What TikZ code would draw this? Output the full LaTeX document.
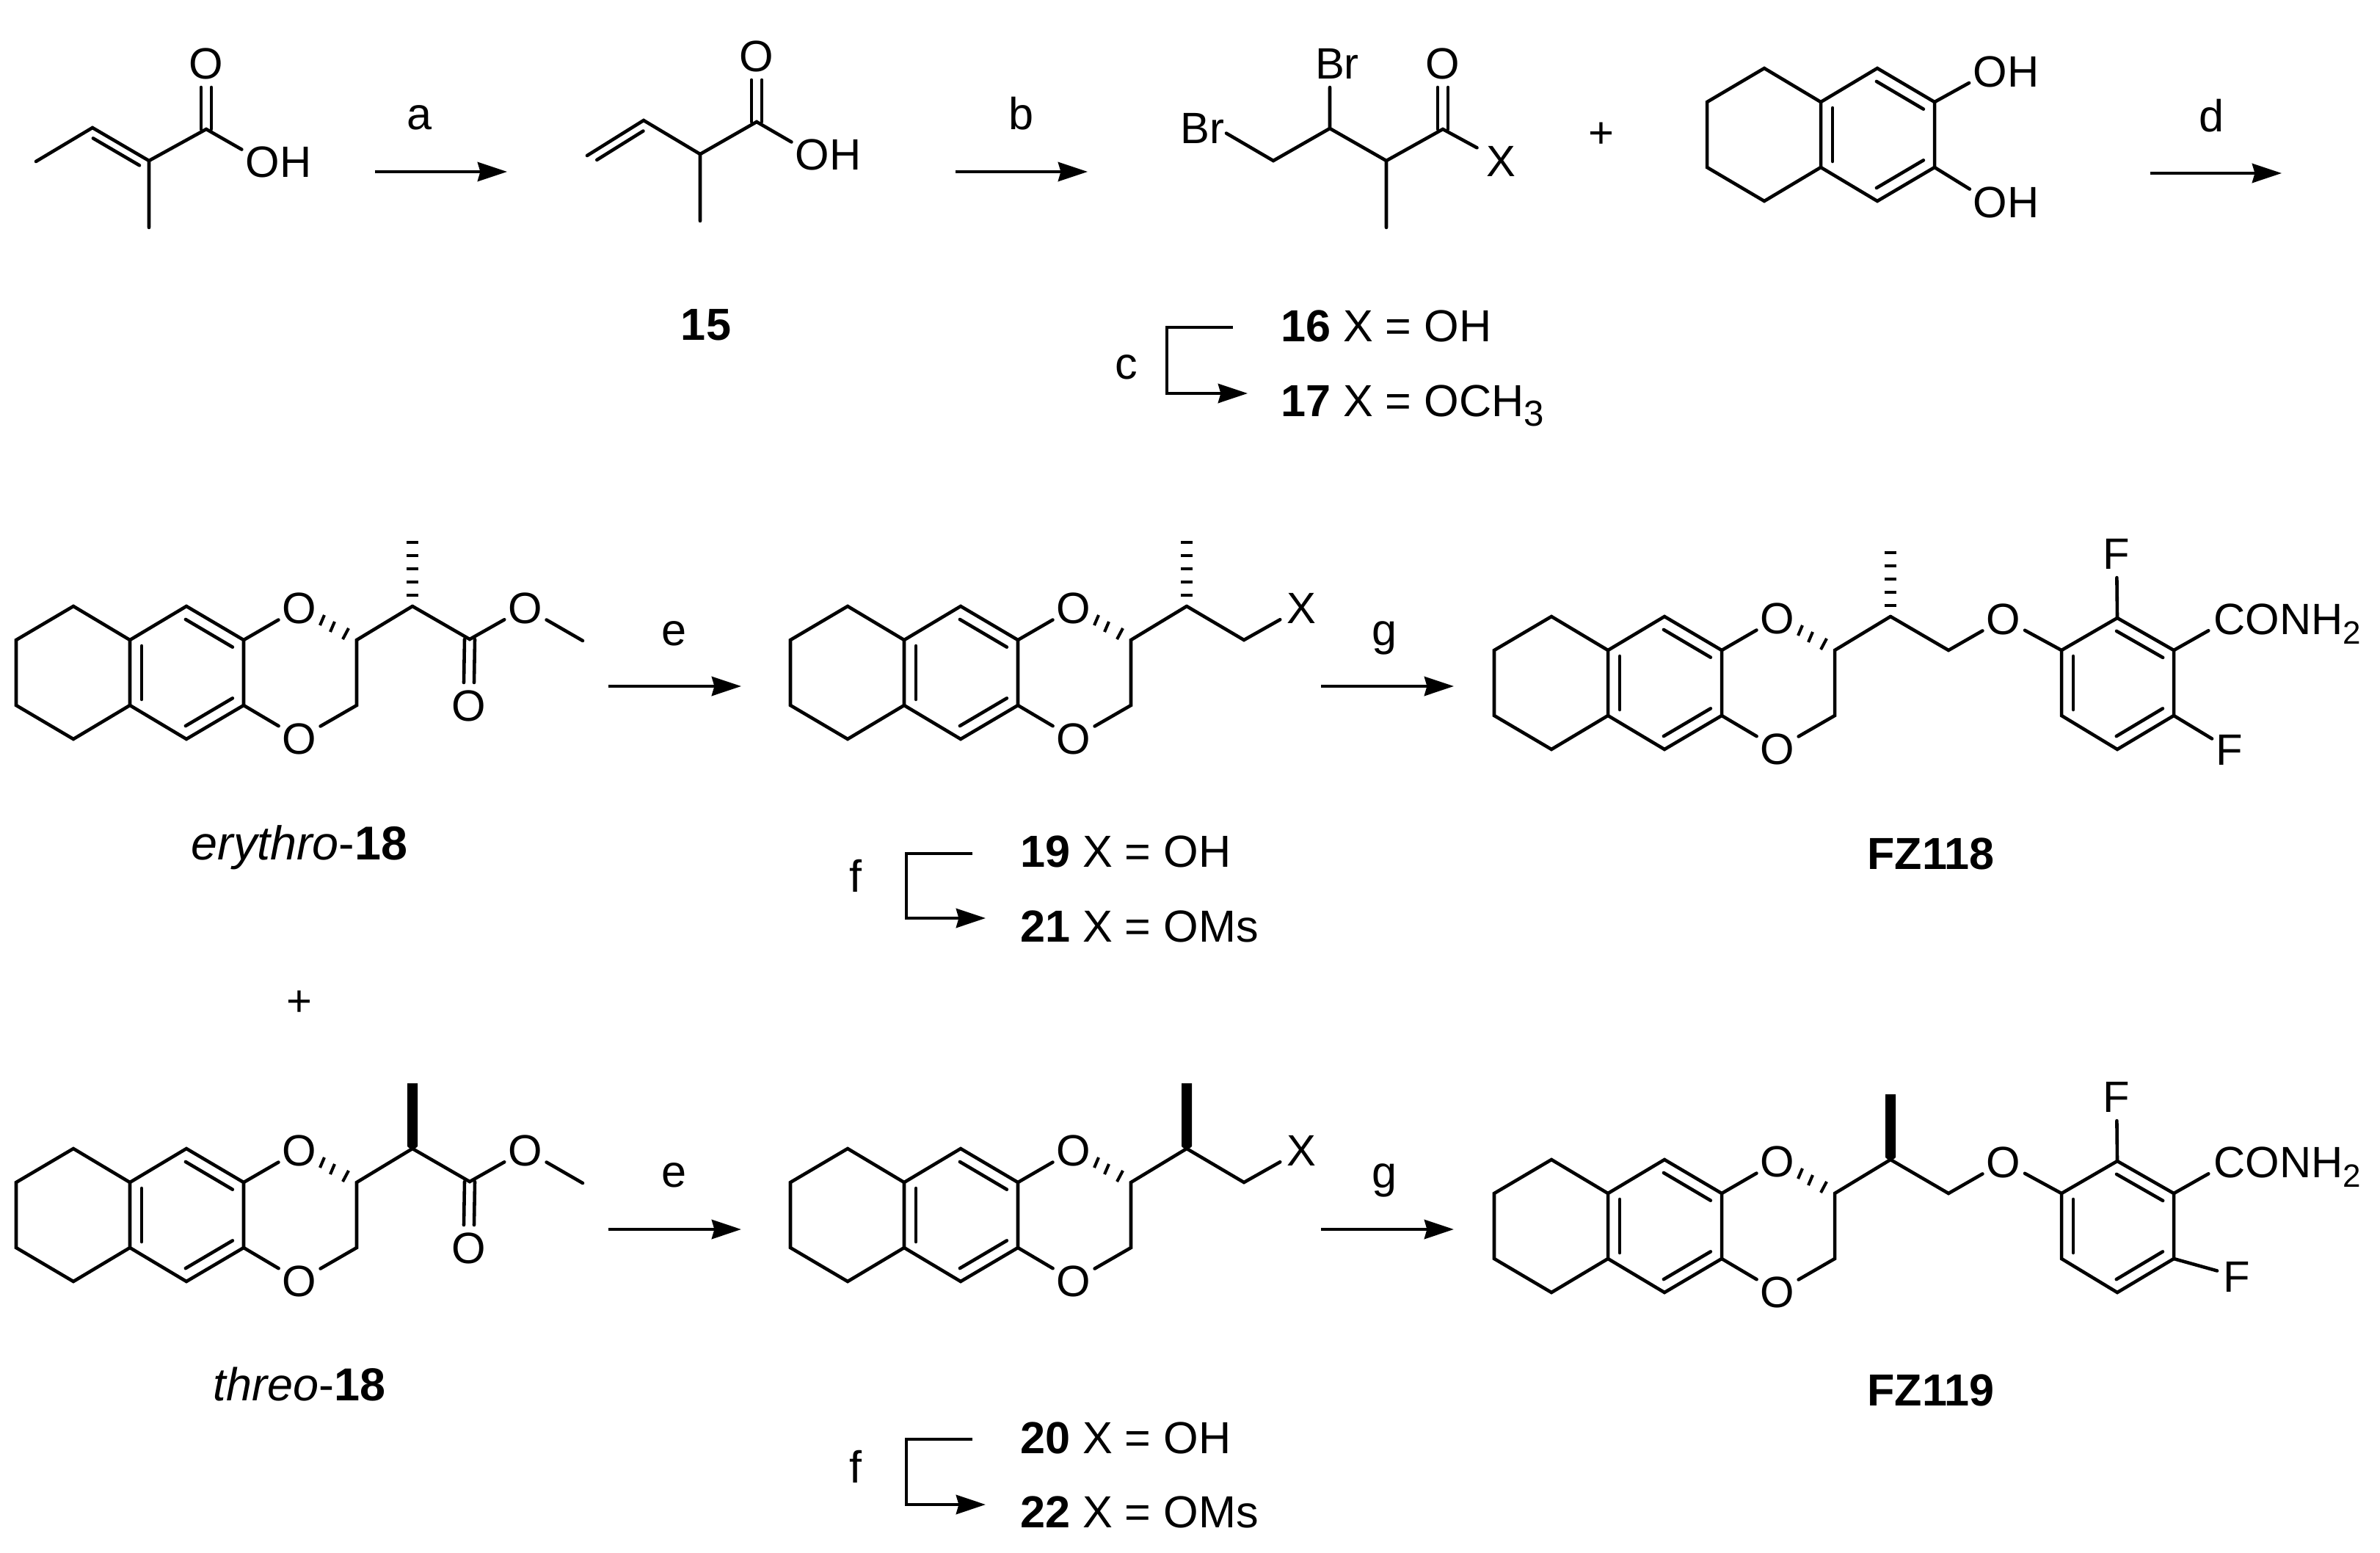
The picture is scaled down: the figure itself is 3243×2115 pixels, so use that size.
\documentclass[tikz,border=0pt]{standalone}
\usepackage{fontspec}
\setmainfont{Liberation Sans}
\usetikzlibrary{calc,arrows.meta}
\newcommand\atxt[3]{\smash{\raisebox{-.358em}{\makebox[0pt][c]{\llap{#1}#2\rlap{#3}}}}}
\newcommand\dbond[3]{\draw[bond] ($(#1)!.09!(#2)!#3!90:(#2)$) -- ($(#2)!.09!(#1)!#3!-90:(#1)$);}
\newcommand\vdbl[3]{\draw[bond] ($(#1)+(-7,0)$) -- ($(#2)+(-7,#3)$) ($(#1)+(7,0)$) -- ($(#2)+(7,#3)$);}
\newcommand\subtxt[2]{\raisebox{-.22em}{\fontsize{#1}{#1}\selectfont #2}}
\newcommand\tetralin{%
  \coordinate (a1) at (22,872); \coordinate (a2) at (100,826); \coordinate (a3) at (177,872);
  \coordinate (a4) at (254,826); \coordinate (a5) at (332,872); \coordinate (a6) at (332,961);
  \coordinate (a7) at (254,1007); \coordinate (a8) at (177,961); \coordinate (a9) at (100,1007);
  \coordinate (a10) at (22,961);
  \draw[bond] (a1)--(a2)--(a3)--(a4)--(a5)--(a6)--(a7)--(a8)--(a9)--(a10)--cycle (a3)--(a8);
  \dbond{a3}{a8}{.16cm}\dbond{a5}{a4}{.16cm}\dbond{a7}{a6}{.16cm}%
}
\newcommand\core{%
  \tetralin
  \node[atom] (O1) at (408,828) {\atxt{}{O}{}};
  \node[atom] (O2) at (408,1006) {\atxt{}{O}{}};
  \coordinate (c1) at (486,872); \coordinate (c2) at (486,961); \coordinate (c3) at (562,826);
  \draw[bond] (a5)--(O1) (a6)--(O2) (O2)--(c2)--(c1)--(c3);
  \draw[tick] ($(c1)+(-11,-16)$)--($(c1)+(-19,-1)$);
  \draw[tick] ($(c1)+(-30,-25)$)--($(c1)+(-36,-11)$);
  \draw[tick] ($(c1)+(-44,-34)$)--($(c1)+(-50,-20)$);
}
\newcommand\hashm{\foreach \d in {15,33,51,69,87}{\draw[tick,line width=1.35pt,line cap=butt] ($(c3)+(-8,-\d)$)--($(c3)+(8,-\d)$);}}
\newcommand\wedgem{\fill ($(c3)+(-7,-89)$)--($(c3)+(7,-89)$)--($(c3)+(7,-3)$)--($(c3)+(0,3)$)--($(c3)+(-7,-3)$)--cycle;}
\newcommand\ester{%
  \coordinate (e1) at (640,871);
  \node[atom] (O3) at (639,961) {\atxt{}{O}{}};
  \node[atom] (O4) at (716,828) {\atxt{}{O}{}};
  \coordinate (e2) at (794,873);
  \draw[bond] (c3)--(e1)--(O4)--(e2);
  \vdbl{e1}{O3}{-31}%
}
\newcommand\xchain{%
  \coordinate (e1) at (640,872);
  \node[atom] (X1) at (718,828) {\atxt{}{X}{}};
  \draw[bond] (c3)--(e1)--(X1);
}
% #1 = y position of the lower F; #2 x of lower F
\newcommand\aryl[2]{%
  \coordinate (e1) at (641,872);
  \node[atom] (O3) at (716,829) {\atxt{}{O}{}};
  \coordinate (b1) at (795,872); \coordinate (b2) at (871,828); \coordinate (b3) at (948,872);
  \coordinate (b4) at (948,961); \coordinate (b5) at (871,1007); \coordinate (b6) at (795,961);
  \node[atom] (F1) at (870,740) {\atxt{}{F}{}};
  \node[atom,minimum size=.56cm] (F2) at (#2,#1) {\atxt{}{F}{}};
  \node[atom] (C1) at (1024,829) {\atxt{}{C}{ONH\subtxt{12.5pt}{2}}};
  \draw[bond] (c3)--(e1)--(O3)--(b1);
  \draw[bond] (b1)--(b2)--(b3)--(b4)--(b5)--(b6)--cycle;
  \draw[bond] (b2)--(F1) (b3)--(C1) (b4)--(F2);
  \dbond{b1}{b6}{.16cm}\dbond{b5}{b4}{.16cm}\dbond{b3}{b2}{.16cm}%
}
% #1 name, #2 xstart, #3 ytop, #4 xcorner, #5 ybottom, #6 xtip
\newcommand\elbow[6]{%
  \coordinate (#1s) at (#2,#3); \coordinate (#1m) at (#4,#3); \coordinate (#1n) at (#4,#5); \coordinate (#1e) at (#6,#5);
  \draw[arr] (#1s)--(#1m)--(#1n)--(#1e);
}
\newcommand\rarrow[4]{%
  \coordinate (#1s) at (#2,#4); \coordinate (#1e) at (#3,#4);
  \draw[arr] (#1s)--(#1e);
}
\tikzset{
  bond/.style={line width=1.3pt,line cap=round,line join=miter},
  tick/.style={line width=1.15pt,line cap=butt},
  arr/.style={line width=1.35pt,line join=miter,-{Stealth[length=11.4pt,width=7.4pt,inset=1pt]}},
  atom/.style={circle,inner sep=0pt,outer sep=0pt,minimum size=.66cm,font=\fontsize{17pt}{17pt}\selectfont},
  capt/.style={inner sep=0pt,outer sep=0pt,anchor=base,font=\fontsize{17.4pt}{17.4pt}\selectfont},
  captw/.style={capt,anchor=base west},
}
\begin{document}
\begin{tikzpicture}[x=0.01cm,y=-0.01cm]
\fill[white] (0,0) rectangle (3243,2115);
\useasboundingbox (0,0) rectangle (3243,2115);

% tiglic acid
\begin{scope}[name prefix=t-]
  \coordinate (p1) at (49,220); \coordinate (p2) at (126,174); \coordinate (p3) at (203,219);
  \coordinate (p4) at (281,176); \coordinate (p5) at (203,310);
  \node[atom] (O) at (281,86) {\atxt{}{O}{}};
  \node[atom] (OH) at (358,220) {\atxt{}{O}{H}};
  \draw[bond] (p1)--(p2)--(p3)--(p4)--(OH) (p3)--(p5);
  \dbond{p3}{p2}{.12cm}
  \vdbl{p4}{O}{33}
\end{scope}
\rarrow{ra}{511}{691}{234}
\node[capt] (la) at (572,176) {a};

% 15
\begin{scope}[name prefix=v-]
  \coordinate (p1) at (800,212); \coordinate (p2) at (877,164); \coordinate (p3) at (954,210);
  \coordinate (p4) at (1031,166); \coordinate (p5) at (954,301);
  \node[atom] (O) at (1031,76) {\atxt{}{O}{}};
  \node[atom] (OH) at (1107,210) {\atxt{}{O}{H}};
  \draw[bond] (p1)--(p2)--(p3)--(p4)--(OH) (p3)--(p5);
  \dbond{p2}{p1}{.12cm}
  \vdbl{p4}{O}{33}
\end{scope}
\node[capt] (n15) at (962,463) {\textbf{15}};
\rarrow{rb}{1302}{1482}{234}
\node[capt] (lb) at (1391,176) {b};

% dibromide
\begin{scope}[name prefix=d-]
  \coordinate (p1) at (1735,219); \coordinate (p2) at (1812,175); \coordinate (p3) at (1889,219);
  \coordinate (p4) at (1966,176); \coordinate (p5) at (1889,310);
  \node[atom,minimum size=.3cm] (Br1) at (1658,174) {\atxt{B}{r}{}};
  \node[atom] (Br2) at (1812,86) {\atxt{}{B}{r}};
  \node[atom] (O) at (1966,86) {\atxt{}{O}{}};
  \node[atom,minimum size=.74cm] (X) at (2045,219) {\atxt{}{X}{}};
  \draw[bond] (Br1)--(p1)--(p2)--(p3)--(p4)--(X) (p3)--(p5) (p2)--(Br2);
  \vdbl{p4}{O}{33}
\end{scope}
\node[atom] (plus1) at (2182,180) {\atxt{}{+}{}};
\elbow{rc}{1680}{446}{1590}{536}{1700}
\node[capt] (lc) at (1535,516) {c};
\node[captw] (n16) at (1745,465) {\textbf{16} X = OH};
\node[captw] (n17) at (1745,567) {\textbf{17} X = OCH\subtxt{14pt}{3}};

% catechol
\begin{scope}[shift={(2304,-733)},name prefix=k-]
  \tetralin
  \node[atom] (O1) at (408,830) {\atxt{}{O}{H}};
  \node[atom] (O2) at (408,1008) {\atxt{}{O}{H}};
  \draw[bond] (a5)--(O1) (a6)--(O2);
\end{scope}
\rarrow{rd}{2930}{3109}{236}
\node[capt] (ld) at (3013,179) {d};

% erythro-18
\begin{scope}[name prefix=m1-]
  \core \hashm \ester
\end{scope}
\node[capt] (ne) at (408,1171) {\fontsize{18.4pt}{18.4pt}\selectfont\textit{erythro}-\textbf{18}};
\node[atom] (plus2) at (408,1363) {\atxt{}{+}{}};
\rarrow{re1}{829}{1010}{935}
\node[capt] (le1) at (918,879) {e};

% 19/21
\begin{scope}[shift={(1055,0)},name prefix=m2-]
  \core \hashm \xchain
\end{scope}
\elbow{rf1}{1325}{1163}{1235}{1251}{1343}
\node[capt] (lf1) at (1166,1215) {f};
\node[captw] (n19) at (1390,1181) {\textbf{19} X = OH};
\node[captw] (n21) at (1390,1283) {\textbf{21} X = OMs};
\rarrow{rg1}{1800}{1981}{935}
\node[capt] (lg1) at (1886,879) {g};

% FZ118
\begin{scope}[shift={(2014,14)},name prefix=m3-]
  \core \hashm \aryl{1007}{1024}
\end{scope}
\node[capt] (nfz1) at (2631,1184) {\textbf{FZ118}};

% threo-18
\begin{scope}[shift={(0,739)},name prefix=m4-]
  \core \wedgem \ester
\end{scope}
\node[capt] (nt) at (408,1908) {\fontsize{17.9pt}{17.9pt}\selectfont\textit{threo}-\textbf{18}};
\rarrow{re2}{829}{1010}{1675}
\node[capt] (le2) at (918,1617) {e};

% 20/22
\begin{scope}[shift={(1055,739)},name prefix=m5-]
  \core \wedgem \xchain
\end{scope}
\elbow{rf2}{1325}{1961}{1235}{2050}{1343}
\node[capt] (lf2) at (1166,2020) {f};
\node[captw] (n20) at (1390,1980) {\textbf{20} X = OH};
\node[captw] (n22) at (1390,2081) {\textbf{22} X = OMs};
\rarrow{rg2}{1800}{1981}{1675}
\node[capt] (lg2) at (1886,1618) {g};

% FZ119
\begin{scope}[shift={(2014,754)},name prefix=m6-]
  \core \wedgem \aryl{985}{1034}
\end{scope}
\node[capt] (nfz2) at (2631,1915) {\textbf{FZ119}};
\end{tikzpicture}
\end{document}
